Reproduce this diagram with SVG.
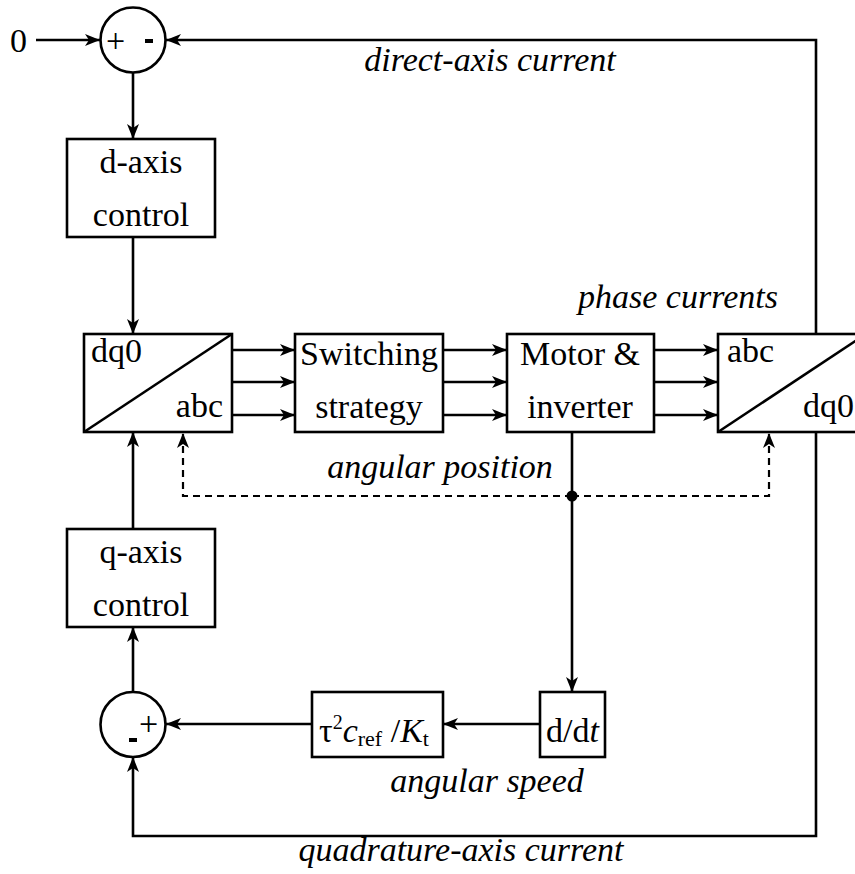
<svg xmlns="http://www.w3.org/2000/svg" width="855" height="874" viewBox="0 0 855 874">
<style>
.ln{fill:none;stroke:#000;stroke-width:2.6}
.dash{fill:none;stroke:#000;stroke-width:2.2;stroke-dasharray:7,5}
.box{fill:#fff;stroke:#000;stroke-width:2.6}
text{font-family:"Liberation Serif","DejaVu Serif",serif;font-size:34px;fill:#000}
.i{font-style:italic}
.sm{font-size:22px}
.sup{font-size:20px}
</style>
<defs>
<marker id="ah" markerUnits="userSpaceOnUse" markerWidth="16" markerHeight="12" refX="15" refY="6" orient="auto">
<path d="M0,0 L15,6 L0,12 L4,6 z" fill="#000"/>
</marker>
</defs>
<g id="connectors">
<line class="ln" x1="36" y1="40" x2="100" y2="40" marker-end="url(#ah)"/>
<polyline class="ln" points="816,334 816,40 166,40" marker-end="url(#ah)"/>
<line class="ln" x1="133" y1="73" x2="133" y2="139" marker-end="url(#ah)"/>
<line class="ln" x1="133" y1="237" x2="133" y2="334" marker-end="url(#ah)"/>
<line class="ln" x1="232" y1="350" x2="295" y2="350" marker-end="url(#ah)"/>
<line class="ln" x1="232" y1="382" x2="295" y2="382" marker-end="url(#ah)"/>
<line class="ln" x1="232" y1="415" x2="295" y2="415" marker-end="url(#ah)"/>
<line class="ln" x1="443" y1="350" x2="507" y2="350" marker-end="url(#ah)"/>
<line class="ln" x1="443" y1="382" x2="507" y2="382" marker-end="url(#ah)"/>
<line class="ln" x1="443" y1="415" x2="507" y2="415" marker-end="url(#ah)"/>
<line class="ln" x1="654" y1="350" x2="718" y2="350" marker-end="url(#ah)"/>
<line class="ln" x1="654" y1="382" x2="718" y2="382" marker-end="url(#ah)"/>
<line class="ln" x1="654" y1="415" x2="718" y2="415" marker-end="url(#ah)"/>
<line class="ln" x1="572" y1="432" x2="572" y2="692" marker-end="url(#ah)"/>
<polyline class="dash" points="572,496 183,496 183,433" marker-end="url(#ah)"/>
<polyline class="dash" points="572,496 769,496 769,433" marker-end="url(#ah)"/>
<circle cx="572" cy="496" r="5.5" fill="#000"/>
<line class="ln" x1="540" y1="724" x2="443" y2="724" marker-end="url(#ah)"/>
<line class="ln" x1="312" y1="724" x2="166" y2="724" marker-end="url(#ah)"/>
<line class="ln" x1="133" y1="692" x2="133" y2="627" marker-end="url(#ah)"/>
<line class="ln" x1="133" y1="529" x2="133" y2="432" marker-end="url(#ah)"/>
<polyline class="ln" points="816,432 816,836 133,836 133,757" marker-end="url(#ah)"/>
</g>
<g id="input0"><text x="10" y="52">0</text></g>
<g id="sum-d">
<circle class="box" cx="133" cy="40" r="32.5"/>
<text x="106" y="52">+</text>
<rect x="145" y="39" width="8" height="4" fill="#000"/>
</g>
<g id="d-axis-control">
<rect class="box" x="67" y="139" width="148" height="98"/>
<text x="141" y="173" text-anchor="middle">d-axis</text>
<text x="141" y="226" text-anchor="middle">control</text>
</g>
<g id="dq0-abc">
<rect class="box" x="84" y="334" width="148" height="98"/>
<line class="ln" x1="84" y1="432" x2="232" y2="334"/>
<text x="91" y="362">dq0</text>
<text x="223" y="417" text-anchor="end">abc</text>
</g>
<g id="switching">
<rect class="box" x="295" y="334" width="148" height="98"/>
<text x="369" y="365" text-anchor="middle">Switching</text>
<text x="369" y="418" text-anchor="middle">strategy</text>
</g>
<g id="motor">
<rect class="box" x="507" y="334" width="147" height="98"/>
<text x="580" y="365" text-anchor="middle">Motor &amp;</text>
<text x="580" y="418" text-anchor="middle">inverter</text>
</g>
<g id="abc-dq0">
<rect class="box" x="718" y="334" width="148" height="98"/>
<line class="ln" x1="718" y1="432" x2="866" y2="334"/>
<text x="727" y="362">abc</text>
<text x="803" y="417">dq0</text>
</g>
<g id="q-axis-control">
<rect class="box" x="67" y="529" width="148" height="98"/>
<text x="141" y="563" text-anchor="middle">q-axis</text>
<text x="141" y="616" text-anchor="middle">control</text>
</g>
<g id="sum-q">
<circle class="box" cx="133" cy="724.5" r="32.5"/>
<text x="139" y="735">+</text>
<rect x="129" y="738" width="8" height="4" fill="#000"/>
</g>
<g id="gain">
<rect class="box" x="312" y="692" width="131" height="65"/>
<text x="319" y="742">τ<tspan class="sup" dy="-13">2</tspan><tspan class="i" dy="13">c</tspan><tspan class="sm" dy="4">ref</tspan><tspan dy="-4"> /</tspan><tspan class="i">K</tspan><tspan class="sm" dy="4">t</tspan></text>
</g>
<g id="ddt">
<rect class="box" x="540" y="692" width="65" height="65"/>
<text x="572.5" y="742" text-anchor="middle">d/d<tspan class="i">t</tspan></text>
</g>
<g id="labels">
<text class="i" x="490" y="71" text-anchor="middle">direct-axis current</text>
<text class="i" x="678" y="308" text-anchor="middle">phase currents</text>
<text class="i" x="440" y="478" text-anchor="middle">angular position</text>
<text class="i" x="487" y="792" text-anchor="middle">angular speed</text>
<text class="i" x="461" y="861" text-anchor="middle">quadrature-axis current</text>
</g>
</svg>
